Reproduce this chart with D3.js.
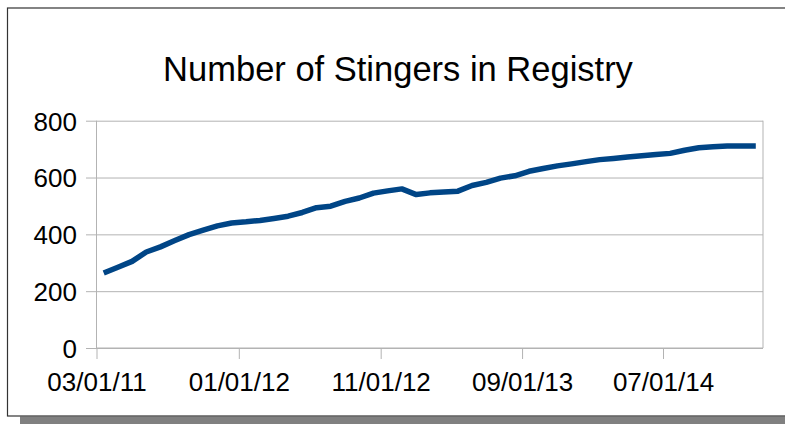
<!DOCTYPE html>
<html>
<head>
<meta charset="utf-8">
<script src="https://cdn.jsdelivr.net/npm/d3@7"></script>
<style>
  body { margin: 0; background: #fff; }
  svg { display: block; font-family: 'Liberation Sans', Arial, sans-serif; }
</style>
</head>
<body>
<svg id="chart" width="785" height="424"></svg>
<script>
// monthly registry counts, Mar 2011 .. Jan 2015
var months = [
  '2011-03', '2011-04', '2011-05', '2011-06', '2011-07', '2011-08', '2011-09', '2011-10', '2011-11', '2011-12',
  '2012-01', '2012-02', '2012-03', '2012-04', '2012-05', '2012-06', '2012-07', '2012-08', '2012-09', '2012-10',
  '2012-11', '2012-12', '2013-01', '2013-02', '2013-03', '2013-04', '2013-05', '2013-06', '2013-07', '2013-08',
  '2013-09', '2013-10', '2013-11', '2013-12', '2014-01', '2014-02', '2014-03', '2014-04', '2014-05', '2014-06',
  '2014-07', '2014-08', '2014-09', '2014-10', '2014-11', '2014-12', '2015-01'
];
var stingers = [
  264, 284, 305, 338, 356, 378, 399, 415, 430, 440,
  444, 449, 456, 464, 477, 494, 499, 516, 528, 545,
  553, 560, 540, 546, 549, 552, 572, 583, 598, 606,
  622, 632, 641, 648, 656, 663, 667, 672, 677, 681,
  685, 696, 705, 708, 711, 711, 711
];
var yTicks = [0, 200, 400, 600, 800];
var xTickLabels = ['03/01/11', '01/01/12', '11/01/12', '09/01/13', '07/01/14'];

var parseMonth = d3.timeParse('%Y-%m');
var parseTick = d3.timeParse('%m/%d/%y');

var svg = d3.select('#chart');
var plot = { left: 96.5, right: 763, top: 120.7, bottom: 348 };

var x = d3.scaleTime()
  .domain([new Date(2011, 2, 1), new Date(2015, 1, 1)])
  .range([plot.left, plot.right]);
var y = d3.scaleLinear()
  .domain([0, 800])
  .range([plot.bottom, plot.top]);

// points sit in the middle of their month
var data = months.map(function (m, i) {
  var start = parseMonth(m);
  var end = d3.timeMonth.offset(start, 1);
  return { date: new Date((+start + +end) / 2), value: stingers[i] };
});

// frame + shadow
svg.append('rect')
  .attr('x', 20).attr('y', 416.5)
  .attr('width', 800).attr('height', 12)
  .attr('fill', '#808080');
svg.append('rect')
  .attr('x', 7.5).attr('y', 8)
  .attr('width', 800).attr('height', 408)
  .attr('fill', '#fff')
  .attr('stroke', '#333')
  .attr('stroke-width', 1.2);

svg.append('text')
  .attr('x', 398).attr('y', 80.5)
  .attr('text-anchor', 'middle')
  .style('font-size', '34.5px')
  .style('fill', '#000')
  .text('Number of Stingers in Registry');

// y axis with gridlines
var yAxis = d3.axisLeft(y)
  .tickValues(yTicks)
  .tickSize(plot.right - plot.left + 10.5)
  .tickPadding(9)
  .tickFormat(d3.format('d'));
var gy = svg.append('g')
  .attr('transform', 'translate(' + plot.right + ',0)')
  .call(yAxis);
gy.select('.domain').remove();
gy.selectAll('.tick line').attr('stroke', '#b3b3b3');
gy.selectAll('.tick text')
  .style('font-size', '26px')
  .style('fill', '#000')
  .attr('dy', '0.36em');

// x axis
var xAxis = d3.axisBottom(x)
  .tickValues(xTickLabels.map(parseTick))
  .tickSize(11)
  .tickPadding(14)
  .tickFormat(d3.timeFormat('%m/%d/%y'));
var gx = svg.append('g')
  .attr('transform', 'translate(0,' + plot.bottom + ')')
  .call(xAxis);
gx.select('.domain').attr('stroke', '#b3b3b3').attr('d', 'M' + plot.left + ',0H' + plot.right);
gx.selectAll('.tick line').attr('stroke', '#b3b3b3');
gx.selectAll('.tick text')
  .style('font-size', '26px')
  .style('fill', '#000');

// left and right edges of the plot area
[plot.left, plot.right].forEach(function (px) {
  svg.append('line')
    .attr('x1', px).attr('x2', px)
    .attr('y1', plot.top).attr('y2', plot.bottom)
    .attr('stroke', '#b3b3b3');
});

var line = d3.line()
  .x(function (d) { return x(d.date); })
  .y(function (d) { return y(d.value); });

svg.append('path')
  .datum(data)
  .attr('d', line)
  .attr('fill', 'none')
  .attr('stroke', '#004586')
  .attr('stroke-width', 5.5)
  .attr('stroke-linejoin', 'round');
</script>
</body>
</html>
